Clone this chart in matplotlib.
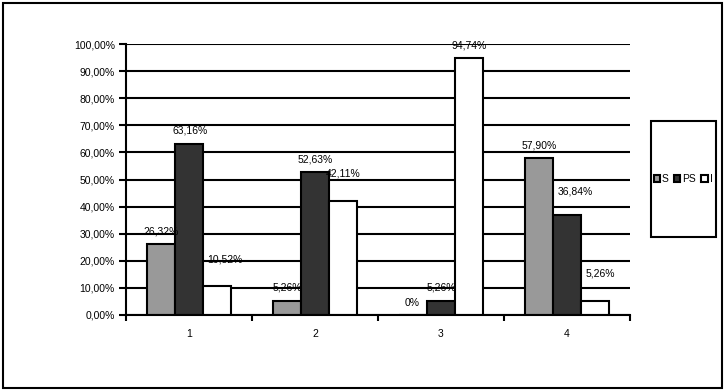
import matplotlib
matplotlib.use("Agg")
import matplotlib.pyplot as plt
from matplotlib.patches import Rectangle
import numpy as np

plt.rcParams['font.family'] = ['Liberation Sans', 'DejaVu Sans']

categories = ["1", "2", "3", "4"]
series_names = ["S", "PS", "I"]
s_vals = [0.2632, 0.0526, 0.0, 0.5790]
ps_vals = [0.6316, 0.5263, 0.0526, 0.3684]
i_vals = [0.1052, 0.4211, 0.9474, 0.0526]
s_labels = ["26,32%", "5,26%", "0%", "57,90%"]
ps_labels = ["63,16%", "52,63%", "5,26%", "36,84%"]
i_labels = ["10,52%", "42,11%", "94,74%", "5,26%"]
yticks = [i / 10 for i in range(11)]
ytick_labels = ["%d,00%%" % (i * 10) for i in range(11)]

colors = ["#999999", "#333333", "#ffffff"]
# label offsets relative to bar tops (pixels), mimicking the original placement
offsets_y = [[12, 13, 12, 13], [13, 13, 13, 24], [27, 27, 13, 27]]
offsets_x = [[0, 0, -1, 0], [1, 0, 0, 8], [8, 0, 0, 6]]
fs = 7.5

W, H = 728, 392
fig = plt.figure(figsize=(W / 100, H / 100), dpi=100)
ax = fig.add_axes([126 / W, 1 - 315 / H, 504 / W, 271 / H])

x = np.arange(len(categories))
bw = 0.22
vals = [s_vals, ps_vals, i_vals]
labs = [s_labels, ps_labels, i_labels]
for k in range(3):
    xs = x + (k - 1) * bw
    ax.bar(xs, vals[k], width=bw, color=colors[k], edgecolor="black",
           linewidth=1.5, zorder=3, label=series_names[k])
    for j in range(len(categories)):
        ax.annotate(labs[k][j], (xs[j], vals[k][j]),
                    xytext=(offsets_x[k][j] * 0.72, offsets_y[k][j] * 0.72),
                    textcoords="offset points", ha="center", va="center",
                    fontsize=fs, zorder=5)

ax.set_xlim(-0.5, len(categories) - 0.5)
ax.set_ylim(0, 1)
ax.set_yticks(yticks)
ax.set_yticklabels(ytick_labels, fontsize=fs)
ax.set_xticks(x)
ax.set_xticklabels(categories, fontsize=fs)
ax.tick_params(axis='x', which='major', length=0, pad=10)
ax.set_xticks(np.arange(-0.5, len(categories), 1), minor=True)
ax.tick_params(axis='x', which='minor', length=4, width=1.5, direction='out')
ax.tick_params(axis='y', length=5, width=1.5, direction='out', pad=3)
ax.grid(axis='y', color='black', linewidth=1.5, zorder=1)
for s in ["top", "right"]:
    ax.spines[s].set_visible(False)
ax.spines["left"].set_linewidth(1.5)
ax.spines["bottom"].set_linewidth(1.5)
ax.spines["bottom"].set_zorder(4)

# legend box
fig.patches.append(Rectangle((651 / W, 1 - 237 / H), 65 / W, 116 / H,
                             transform=fig.transFigure, fill=False,
                             edgecolor='black', linewidth=1.5))
fig.legend(loc='center', bbox_to_anchor=(683 / W, 1 - 179 / H), ncol=3,
           frameon=False, fontsize=fs, handlelength=0.6, handleheight=0.6,
           handletextpad=0.2, columnspacing=0.5)

# outer frame
fig.patches.append(Rectangle((3 / W, 1 - 388 / H), 719 / W, 385 / H,
                             transform=fig.transFigure, fill=False,
                             edgecolor='black', linewidth=1.5))

fig.savefig("out.png", dpi=100)
